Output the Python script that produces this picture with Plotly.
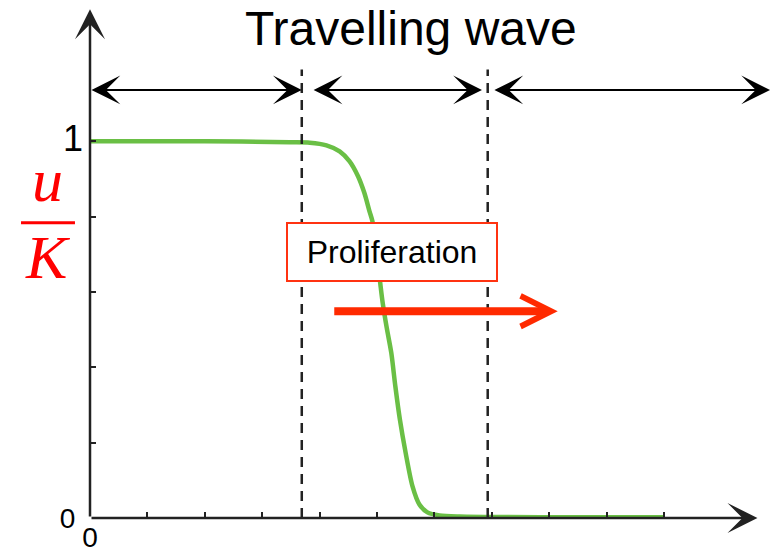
import plotly.graph_objects as go

# ---- data ----
wave_x = [0.0, 2.0, 3.48, 3.83, 4.12, 4.35, 4.52, 4.67, 4.78, 4.87, 4.92, 5.00,
          5.06, 5.10, 5.17, 5.25, 5.32, 5.40, 5.50, 5.62, 5.74, 5.88, 6.09, 6.44,
          8.0, 10.0]
wave_y = [1.0, 1.0, 0.997, 0.996, 0.989, 0.973, 0.947, 0.907, 0.863, 0.814, 0.788, 0.70,
          0.62, 0.571, 0.505, 0.438, 0.350, 0.261, 0.173, 0.084, 0.036, 0.015, 0.007, 0.004,
          0.002, 0.002]

boundaries = [3.69, 6.93]             # dashed lines separating the regions
region_spans = [(0.0, 3.69), (3.87, 6.83), (7.02, 11.85)]
x_ticks = [0, 1, 2, 3, 4, 5, 6, 7, 8, 9, 10]
x_ticktext = ["0", "", "", "", "", "", "", "", "", "", ""]
y_ticks = [0, 0.2, 0.4, 0.6, 0.8, 1.0]
y_ticktext = ["0&nbsp;", "", "", "", "", "<span style='font-size:36px'>1</span>"]

title_text = "Travelling wave"
box_text = "Proliferation"

X_MAX = 11.901
Y_MAX = 1.3747
FONT = "Liberation Sans, Arial, sans-serif"
SERIF = "Liberation Serif, Times New Roman, serif"
AXIS_COL = "#222222"
RED = "#ff2a00"

fig = go.Figure()
fig.add_trace(go.Scatter(x=wave_x, y=wave_y, mode="lines",
                         line=dict(color="#6abf45", width=4.5, shape="spline", smoothing=0.8),
                         hoverinfo="skip"))

# dashed boundaries
for b in boundaries:
    fig.add_shape(type="line", xref="x", yref="y", x0=b, x1=b, y0=0, y1=1.19,
                  line=dict(color=AXIS_COL, width=2.5, dash="10px,7px"))

ann = []
# axes with arrowheads
ann.append(dict(x=0, y=1.350, ax=0, ay=0, xref="x", yref="y", axref="x", ayref="y",
                text="", showarrow=True, arrowhead=3, arrowsize=2.0, arrowwidth=2.5,
                arrowcolor=AXIS_COL, standoff=0))
ann.append(dict(x=11.63, y=0, ax=0, ay=0, xref="x", yref="y", axref="x", ayref="y",
                text="", showarrow=True, arrowhead=3, arrowsize=2.0, arrowwidth=2.5,
                arrowcolor=AXIS_COL, standoff=0))
# region double arrows
for (a, b) in region_spans:
    ann.append(dict(x=b, y=1.136, ax=a, ay=1.136, xref="x", yref="y", axref="x", ayref="y",
                    text="", showarrow=True, arrowhead=3, startarrowhead=3,
                    arrowside="end+start", arrowsize=2.4, startarrowsize=2.4,
                    arrowwidth=2, arrowcolor="black", standoff=0, startstandoff=0))
# title
ann.append(dict(x=5.59, y=1.299, xref="x", yref="y", text=title_text, showarrow=False,
                xanchor="center", yanchor="middle",
                font=dict(family=FONT, size=48, color="black")))
# proliferation box
ann.append(dict(x=5.27, y=0.707, xref="x", yref="y", text=box_text, showarrow=False,
                xanchor="center", yanchor="middle",
                font=dict(family=FONT, size=32, color="black"), bgcolor="white",
                bordercolor="#ff3311", borderwidth=2, borderpad=2, width=204, height=52))
# red arrow
ann.append(dict(x=8.15, y=0.549, ax=4.23, ay=0.549, xref="x", yref="y", axref="x", ayref="y",
                text="", showarrow=True, arrowhead=5, arrowsize=0.75, arrowwidth=8,
                arrowcolor=RED, standoff=0))
# y label u / K (in the left margin)
ann.append(dict(x=-0.0622, y=0.653, xref="paper", yref="paper", text="<i>u</i>",
                xanchor="center", yanchor="middle",
                showarrow=False, font=dict(family=SERIF, size=62, color="red")))
ann.append(dict(x=-0.0622, y=0.504, xref="paper", yref="paper", text="<i>K</i>",
                xanchor="center", yanchor="middle",
                showarrow=False, font=dict(family=SERIF, size=62, color="red")))
fig.add_shape(type="line", xref="paper", yref="paper", x0=-0.101, x1=-0.022,
              y0=0.570, y1=0.570, line=dict(color="red", width=3))

fig.update_layout(
    width=773, height=554,
    margin=dict(l=90, r=0, t=0, b=36, autoexpand=False),
    plot_bgcolor="white", paper_bgcolor="white",
    showlegend=False,
    annotations=ann,
    xaxis=dict(range=[0, X_MAX], showgrid=False, zeroline=False, showline=False,
               automargin=False,
               ticks="inside", ticklen=6, tickwidth=1.5, tickcolor=AXIS_COL,
               tickvals=x_ticks, ticktext=x_ticktext,
               tickfont=dict(family=FONT, size=28, color="black"),
               ticklabelstandoff=0),
    yaxis=dict(range=[0, Y_MAX], showgrid=False, zeroline=False, showline=False,
               automargin=False,
               ticks="inside", ticklen=6, tickwidth=1.5, tickcolor=AXIS_COL,
               tickvals=y_ticks, ticktext=y_ticktext,
               tickfont=dict(family=FONT, size=28, color="black"),
               ticklabelstandoff=6),
)

fig.write_html("out.html",
               config={"displayModeBar": False},
               post_script="document.body.style.margin='0';"
                           "document.body.style.overflow='hidden';")
